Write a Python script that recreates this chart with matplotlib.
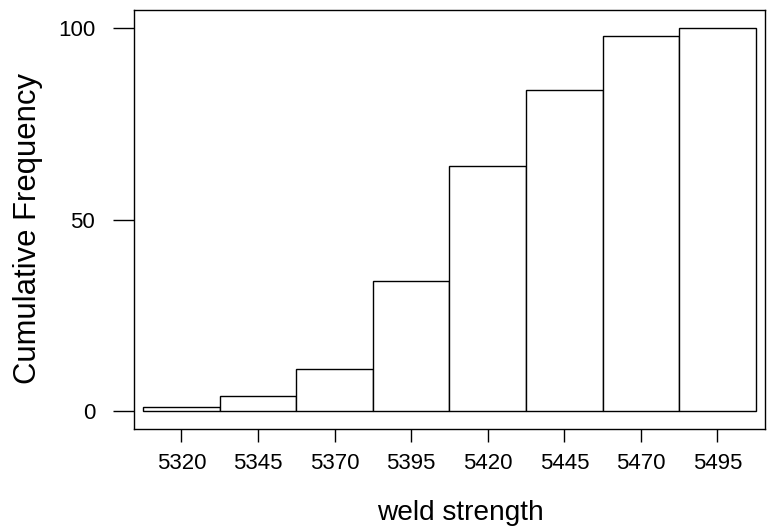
import matplotlib
matplotlib.use("Agg")
from matplotlib import pyplot as plt

# bin centres and cumulative counts
bin_centers = [5320, 5345, 5370, 5395, 5420, 5445, 5470, 5495]
cum_freq = [1, 4, 11, 34, 64, 84, 98, 100]
bin_width = 25
yticks = [0, 50, 100]

plt.rcParams["font.family"] = ["Liberation Sans", "DejaVu Sans"]

fig = plt.figure(figsize=(7.68, 5.29), dpi=100)
ax = fig.add_axes([0.1745, 0.1885, 0.8215, 0.7925])

ax.bar(bin_centers, cum_freq, width=bin_width, color="white",
       edgecolor="black", linewidth=1.0)

ax.set_xlim(5304.5, 5510.5)
ax.set_ylim(-4.8, 104.8)
ax.set_xticks(bin_centers)
ax.set_yticks(yticks)
ax.tick_params(axis="x", length=9.4, width=1.0, pad=8, labelsize=16)
ax.tick_params(axis="y", length=15, width=1.0, pad=13, labelsize=16)
for sp in ax.spines.values():
    sp.set_linewidth(1.0)

ax.set_xlabel("weld strength", fontsize=20.2, labelpad=18.5)
ax.set_ylabel("Cumulative Frequency", fontsize=22.3, labelpad=10.5)
ax.xaxis.label.set_x(0.518)
ax.yaxis.label.set_y(0.479)

fig.savefig("out.png", dpi=100)
